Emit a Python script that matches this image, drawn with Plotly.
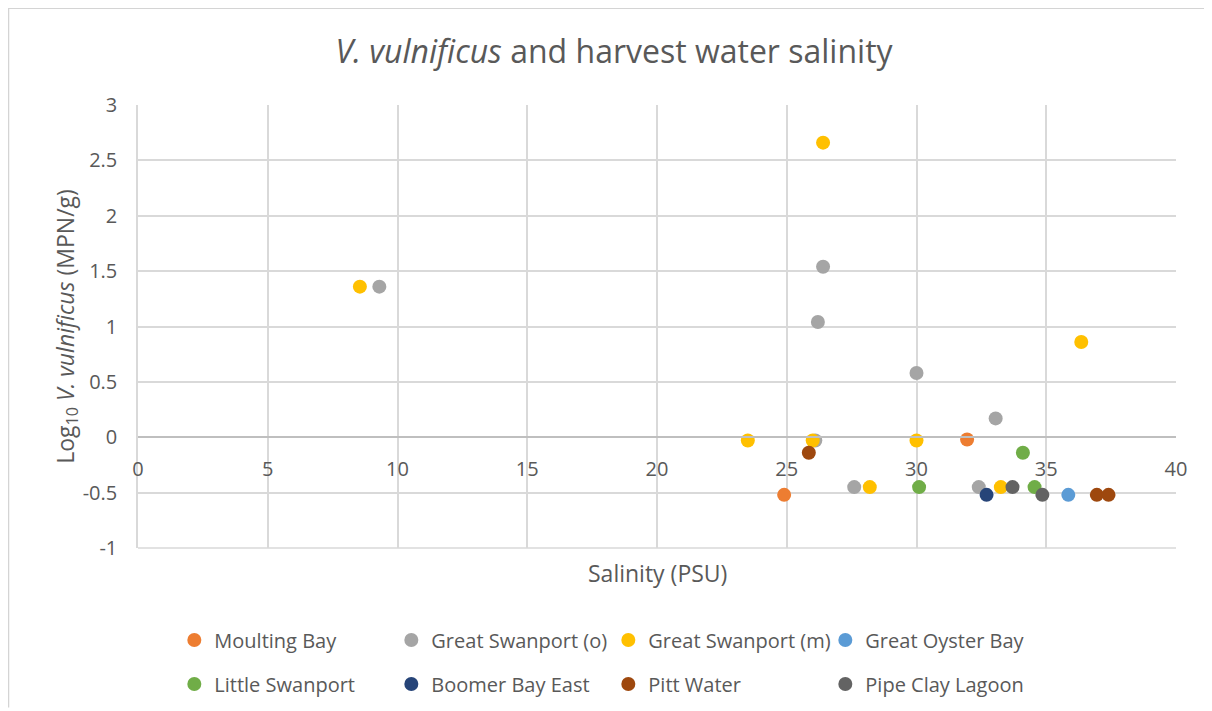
import plotly.graph_objects as go

series_names = ["Moulting Bay", "Great Swanport (o)", "Great Swanport (m)", "Great Oyster Bay",
                "Little Swanport", "Boomer Bay East", "Pitt Water", "Pipe Clay Lagoon"]
series_colors = ["#ED7D31", "#A5A5A5", "#FFC000", "#5B9BD5",
                 "#70AD47", "#264478", "#9E480E", "#636363"]

moulting_x = [24.9, 31.95]
moulting_y = [-0.52, -0.02]
gs_o_x = [9.3, 26.4, 26.2, 30.0, 33.05, 26.1, 27.6, 32.4]
gs_o_y = [1.36, 1.54, 1.04, 0.58, 0.17, -0.03, -0.45, -0.45]
gs_m_x = [8.55, 26.4, 36.35, 23.5, 26.0, 30.0, 28.2, 33.25]
gs_m_y = [1.36, 2.66, 0.86, -0.03, -0.03, -0.03, -0.45, -0.45]
gob_x = [35.85]
gob_y = [-0.52]
little_x = [34.1, 30.1, 34.55]
little_y = [-0.14, -0.45, -0.45]
boomer_x = [32.7]
boomer_y = [-0.52]
pitt_x = [25.85, 36.95, 37.4]
pitt_y = [-0.14, -0.52, -0.52]
pipe_x = [33.7, 34.85]
pipe_y = [-0.45, -0.52]

y_tick_vals = [-1, -0.5, 0, 0.5, 1, 1.5, 2, 2.5, 3]
y_tick_labels = ["-1", "-0.5", "0", "0.5", "1", "1.5", "2", "2.5", "3"]
x_tick_vals = [0, 5, 10, 15, 20, 25, 30, 35, 40]
x_tick_labels = ["0", "5", "10", "15", "20", "25", "30", "35", "40"]

xs = [moulting_x, gs_o_x, gs_m_x, gob_x, little_x, boomer_x, pitt_x, pipe_x]
ys = [moulting_y, gs_o_y, gs_m_y, gob_y, little_y, boomer_y, pitt_y, pipe_y]

font = "Open Sans, Lato, sans-serif"
grey = "#595959"
fig = go.Figure()
for i, (name, color, x, y) in enumerate(zip(series_names, series_colors, xs, ys)):
    fig.add_trace(go.Scatter(x=x, y=y, mode="markers", name=name,
                             legend="legend" if i < 4 else "legend2",
                             marker=dict(size=14, color=color, line=dict(width=0))))

legend_common = dict(orientation="h", xanchor="left", yanchor="middle",
                     font=dict(size=20, color=grey, family=font),
                     entrywidth=172, entrywidthmode="pixels", itemwidth=30,
                     bgcolor="rgba(0,0,0,0)")

fig.update_layout(
    width=1212, height=711,
    margin=dict(l=130, r=44, t=97, b=171),
    paper_bgcolor="white", plot_bgcolor="white",
    font=dict(family=font, color=grey),
    title=dict(text="<i>V. vulnificus</i> and harvest water salinity",
               x=0.5, xanchor="center", y=0.938, yanchor="middle",
               font=dict(size=32, color=grey, family=font)),
    xaxis=dict(range=[0, 40], tickvals=x_tick_vals, ticktext=x_tick_labels,
               showgrid=True, gridcolor="#D9D9D9", gridwidth=1.5,
               zeroline=False, showline=True, linecolor="#BFBFBF", linewidth=1.5,
               anchor="free", position=0.25, ticks="", ticklen=0, ticklabelstandoff=14,
               tickfont=dict(size=20, color=grey)),
    yaxis=dict(range=[-1, 3], tickvals=y_tick_vals, ticktext=y_tick_labels,
               showgrid=True, gridcolor="#D9D9D9", gridwidth=1.5,
               zeroline=False, showline=True, linecolor="#D9D9D9", linewidth=1.5,
               ticks="", ticklabelstandoff=15, tickfont=dict(size=20, color=grey),
               title=dict(text="Log<sub>10</sub> <i>V. vulnificus</i> (MPN/g)",
                          font=dict(size=23, color=grey), standoff=2)),
    showlegend=True,
    legend=dict(x=0.035, y=-0.2077, **legend_common),
    legend2=dict(x=0.035, y=-0.307, **legend_common),
    annotations=[dict(text="Salinity (PSU)", xref="paper", yref="paper", x=0.5, y=-0.0564,
                      xanchor="center", yanchor="middle", showarrow=False,
                      font=dict(size=23, color=grey))],
    shapes=[
        dict(type="line", xref="paper", yref="paper", x0=-0.125, x1=1.03, y0=1.219, y1=1.219,
             line=dict(color="#D4D4D4", width=2)),
        dict(type="line", xref="paper", yref="paper", x0=-0.125, x1=-0.125, y0=1.219, y1=-0.36,
             line=dict(color="#D4D4D4", width=2)),
        dict(type="line", xref="paper", yref="paper", x0=0, x1=1, y0=0, y1=0,
             line=dict(color="#D9D9D9", width=1.5)),
    ],
)

fig.write_html("out.html")
